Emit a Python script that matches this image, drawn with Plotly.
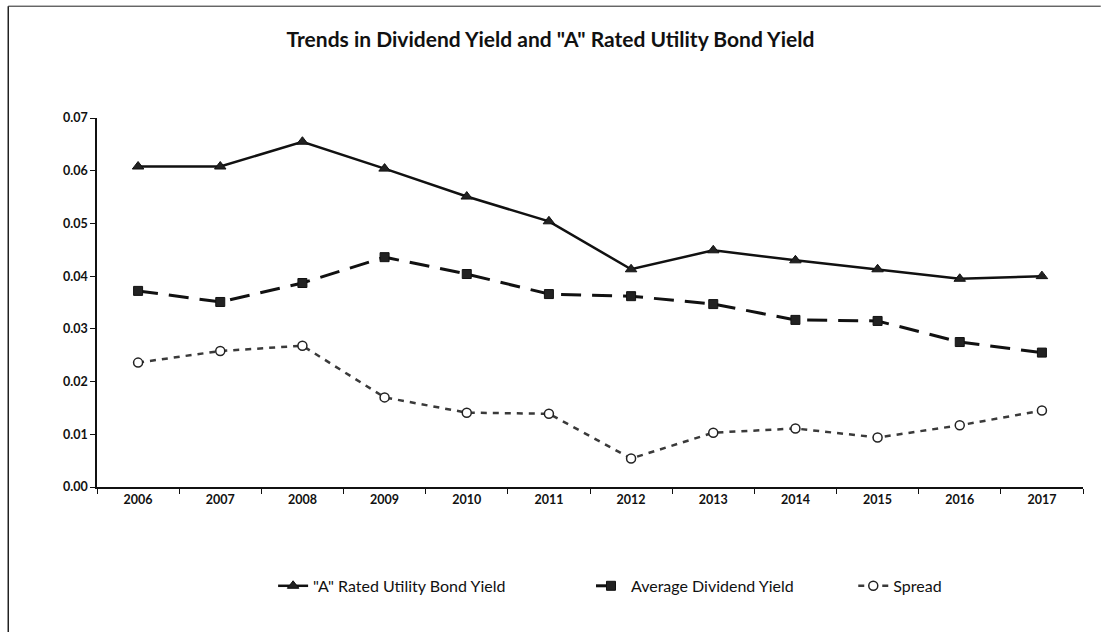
import plotly.graph_objects as go

years = ["2006", "2007", "2008", "2009", "2010", "2011", "2012", "2013", "2014", "2015", "2016", "2017"]
bond_yield = [0.0608, 0.0608, 0.0655, 0.0604, 0.0551, 0.0504, 0.0413, 0.0449, 0.0430, 0.0413, 0.0395, 0.0400]
dividend_yield = [0.0372, 0.0351, 0.0387, 0.0436, 0.0404, 0.0366, 0.0362, 0.0347, 0.0317, 0.0315, 0.0275, 0.0255]
spread = [0.0236, 0.0258, 0.0268, 0.0170, 0.0141, 0.0139, 0.0054, 0.0103, 0.0111, 0.0094, 0.0117, 0.0145]
y_ticks = [0.00, 0.01, 0.02, 0.03, 0.04, 0.05, 0.06, 0.07]
y_tick_labels = ["0.00", "0.01", "0.02", "0.03", "0.04", "0.05", "0.06", "0.07"]

FONT = "Lato"

fig = go.Figure()
fig.add_trace(go.Scatter(
    x=years, y=bond_yield, name='"A" Rated Utility Bond Yield',
    mode="lines+markers", legend="legend",
    line=dict(color="#111111", width=2.5),
    marker=dict(symbol="triangle-up", size=10, color="#222222",
                line=dict(color="#111111", width=1)),
))
fig.add_trace(go.Scatter(
    x=years, y=dividend_yield, name="Average Dividend Yield",
    mode="lines+markers", legend="legend2",
    line=dict(color="#111111", width=3, dash="20px,11px"),
    marker=dict(symbol="square", size=9, color="#222222",
                line=dict(color="#111111", width=1)),
))
fig.add_trace(go.Scatter(
    x=years, y=spread, name="Spread",
    mode="lines+markers", legend="legend3",
    line=dict(color="#3a3a3a", width=2.5, dash="6px,6px"),
    marker=dict(symbol="circle", size=9, color="white",
                line=dict(color="#222222", width=1.5)),
))

legend_common = dict(orientation="h", xanchor="left", y=-0.268, yanchor="middle",
                     font=dict(family=FONT, size=16, color="#111111"),
                     bgcolor="rgba(0,0,0,0)")

fig.update_layout(
    width=1101, height=632,
    margin=dict(l=97, r=18, t=118, b=145),
    paper_bgcolor="white", plot_bgcolor="white",
    font=dict(family=FONT, color="#111111", size=12),
    title=dict(text='Trends in Dividend Yield and "A" Rated Utility Bond Yield',
               x=0.5, xanchor="center", y=0.937, yanchor="middle",
               font=dict(family=FONT, size=21, color="#111111", weight="bold")),
    showlegend=True,
    legend=dict(x=0.1786, **legend_common),
    legend2=dict(x=0.501, **legend_common),
    legend3=dict(x=0.767, **legend_common),
    xaxis=dict(
        type="category", showgrid=False, showline=True, linecolor="#111111", linewidth=1.5,
        ticks="outside", ticklen=5, tickcolor="#111111", tickson="boundaries",
        tickfont=dict(family=FONT, size=12.5, color="#111111", weight="bold"),
        range=[-0.5, 11.5], zeroline=False,
    ),
    yaxis=dict(
        range=[0, 0.07], tickvals=y_ticks, ticktext=y_tick_labels,
        showgrid=False, showline=True, linecolor="#111111", linewidth=1.5,
        ticks="outside", ticklen=5, tickcolor="#111111", zeroline=False,
        tickfont=dict(family=FONT, size=12.5, color="#111111", weight="bold"),
    ),
    shapes=[
        dict(type="line", xref="paper", yref="paper", x0=-0.090, x1=-0.090, y0=-0.4, y1=1.303,
             line=dict(color="#222222", width=1.5)),
        dict(type="line", xref="paper", yref="paper", x0=-0.090, x1=1.018, y0=1.303, y1=1.303,
             line=dict(color="#222222", width=1)),
    ],
)

fig.write_html("out.html")
